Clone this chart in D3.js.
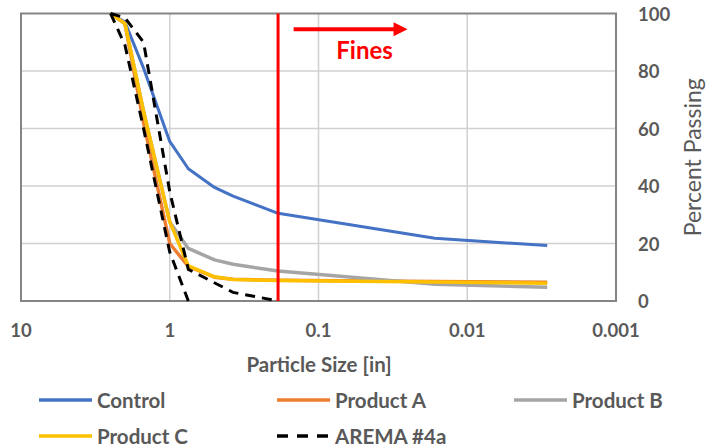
<!DOCTYPE html>
<html lang="en">
<head>
<meta charset="UTF-8">
<title>Particle Size Distribution</title>
<script src="https://d3js.org/d3.v7.min.js"></script>
<style>
body{
	margin: 0;
	background: #fff;
	font-family: "Lato", sans-serif;
}
.tick-label{
	fill: #595959;
	font-size: 18.5px;
	font-weight: bold;
}
.axis-title{
	fill: #595959;
	font-size: 20.5px;
	font-weight: bold;
}
.legend-text{
	fill: #595959;
	font-size: 20.5px;
	font-weight: bold;
}
</style>
</head>
<body>
<svg id="chart"></svg>
<script>
// sieve sizes in inches (2.5", 2", 1.5", 1", 3/4", 1/2", 3/8", #4, #40, #200)
var sizes = [2.5, 2, 1.5, 1, 0.75, 0.5, 0.375, 0.187, 0.0165, 0.0029];

var control  = [100, 97, 81, 55.5, 46, 39.5, 36.5, 30.5, 21.8, 19.3];
var productA = [100, 96.5, 62, 20, 12, 8.3, 7.6, 7.2, 6.8, 6.5];
var productB = [100, 96.5, 66, 27.5, 18.3, 14.3, 12.8, 10.4, 5.8, 4.8];
var productC = [100, 96.5, 66, 27.5, 12.2, 8.4, 7.5, 7.1, 6.6, 6.2];

// AREMA #4a gradation band
var aremaUpperSizes = [2.5, 2, 1.5, 1, 0.75, 0.375, 0.187];
var aremaUpper      = [100, 98.5, 90, 38, 11, 3, 0];
var aremaLowerSizes = [2.5, 2, 1.5, 1, 0.75];
var aremaLower      = [100, 89, 60, 17, 0];

var xTicks = [10, 1, 0.1, 0.01, 0.001];
var xTickLabels = ["10", "1", "0.1", "0.01", "0.001"];
var yTicks = [0, 20, 40, 60, 80, 100];

var finesSize = 0.187;

var W = 716, H = 448;
var margin = {top: 13.5, right: 100, bottom: 147, left: 21};

var svg = d3.select("#chart")
	.attr("width", W)
	.attr("height", H);

var x = d3.scaleLog().domain([10, 0.001]).range([margin.left, W - margin.right]);
var y = d3.scaleLinear().domain([0, 100]).range([H - margin.bottom, margin.top]);

function pairs(xs, ys){
	return xs.map(function(d, i){ return {size: d, pct: ys[i]}; });
}

var line = d3.line()
	.x(function(d){ return x(d.size); })
	.y(function(d){ return y(d.pct); });

// gridlines
svg.append("g")
	.selectAll("line")
	.data(yTicks.slice(1, -1))
	.enter().append("line")
	.attr("x1", x(10)).attr("x2", x(0.001))
	.attr("y1", function(d){ return y(d); })
	.attr("y2", function(d){ return y(d); })
	.attr("stroke", "#d0d0d0")
	.attr("stroke-width", 1.5);

svg.append("g")
	.selectAll("line")
	.data(xTicks.slice(1, -1))
	.enter().append("line")
	.attr("y1", y(0)).attr("y2", y(100))
	.attr("x1", function(d){ return x(d); })
	.attr("x2", function(d){ return x(d); })
	.attr("stroke", "#d0d0d0")
	.attr("stroke-width", 1.5);

// plot border
svg.append("rect")
	.attr("x", x(10))
	.attr("y", y(100))
	.attr("width", x(0.001) - x(10))
	.attr("height", y(0) - y(100))
	.attr("fill", "none")
	.attr("stroke", "#858585")
	.attr("stroke-width", 2);

// tick labels
svg.append("g")
	.selectAll("text")
	.data(xTicks)
	.enter().append("text")
	.attr("class", "tick-label")
	.attr("x", function(d){ return x(d); })
	.attr("y", y(0) + 36)
	.attr("text-anchor", "middle")
	.text(function(d, i){ return xTickLabels[i]; });

svg.append("g")
	.selectAll("text")
	.data(yTicks)
	.enter().append("text")
	.attr("class", "tick-label")
	.attr("x", x(0.001) + 22)
	.attr("y", function(d){ return y(d) + 7; })
	.attr("text-anchor", "start")
	.text(function(d){ return d; });

svg.append("text")
	.attr("class", "axis-title")
	.attr("x", 319)
	.attr("y", 372)
	.attr("text-anchor", "middle")
	.text("Particle Size [in]");

svg.append("text")
	.attr("transform", "translate(701," + ((y(0) + y(100)) / 2) + ") rotate(-90)")
	.attr("text-anchor", "middle")
	.style("fill", "#595959")
	.style("font-size", "23px")
	.text("Percent Passing");

// series
var series = [
	{name: "Control",   color: "#4472C4", width: 3,   data: pairs(sizes, control)},
	{name: "Product A", color: "#ED7D31", width: 3.5, data: pairs(sizes, productA)},
	{name: "Product B", color: "#A5A5A5", width: 3.5, data: pairs(sizes, productB)},
	{name: "Product C", color: "#FFC000", width: 3.5, data: pairs(sizes, productC)}
];

svg.append("g")
	.selectAll("path")
	.data(series)
	.enter().append("path")
	.attr("fill", "none")
	.attr("stroke", function(d){ return d.color; })
	.attr("stroke-width", function(d){ return d.width; })
	.attr("stroke-linejoin", "round")
	.attr("d", function(d){ return line(d.data); });

// #4 sieve line (fines boundary)
svg.append("line")
	.attr("x1", x(finesSize)).attr("x2", x(finesSize))
	.attr("y1", y(0)).attr("y2", y(100))
	.attr("stroke", "#FF0000")
	.attr("stroke-width", 3);

// AREMA band, dashed
svg.append("g")
	.selectAll("path")
	.data([pairs(aremaUpperSizes, aremaUpper), pairs(aremaLowerSizes, aremaLower)])
	.enter().append("path")
	.attr("fill", "none")
	.attr("stroke", "#000")
	.attr("stroke-width", 3)
	.attr("stroke-dasharray", "10,7")
	.attr("d", line);

// Fines arrow
var arrowY = y(94.5);
var arrowStart = x(0.147), arrowEnd = x(0.0252);
svg.append("line")
	.attr("x1", arrowStart).attr("x2", arrowEnd - 12)
	.attr("y1", arrowY).attr("y2", arrowY)
	.attr("stroke", "#FF0000")
	.attr("stroke-width", 4);
svg.append("path")
	.attr("d", "M" + (arrowEnd - 14) + "," + (arrowY - 7) + "L" + arrowEnd + "," + arrowY + "L" + (arrowEnd - 14) + "," + (arrowY + 7) + "Z")
	.attr("fill", "#FF0000");

svg.append("text")
	.attr("x", x(0.049))
	.attr("y", y(84.3))
	.attr("text-anchor", "middle")
	.style("fill", "#FF0000")
	.style("font-size", "24px")
	.style("font-weight", "bold")
	.text("Fines");

// legend
var legendItems = [
	{name: "Control",   color: "#4472C4", dash: null,   col: 0, row: 0},
	{name: "Product A", color: "#ED7D31", dash: null,   col: 1, row: 0},
	{name: "Product B", color: "#A5A5A5", dash: null,   col: 2, row: 0},
	{name: "Product C", color: "#FFC000", dash: null,   col: 0, row: 1},
	{name: "AREMA #4a", color: "#000",    dash: "11,9", col: 1, row: 1}
];
var colX = [39, 277, 514];
var rowY = [400, 436];

var legend = svg.append("g")
	.selectAll("g")
	.data(legendItems)
	.enter().append("g")
	.attr("transform", function(d){ return "translate(" + colX[d.col] + "," + rowY[d.row] + ")"; });

legend.append("line")
	.attr("x1", 0).attr("x2", 53)
	.attr("y1", 0).attr("y2", 0)
	.attr("stroke", function(d){ return d.color; })
	.attr("stroke-width", 3.5)
	.attr("stroke-dasharray", function(d){ return d.dash; });

legend.append("text")
	.attr("class", "legend-text")
	.attr("x", 58)
	.attr("y", 7.5)
	.text(function(d){ return d.name; });
</script>
</body>
</html>
